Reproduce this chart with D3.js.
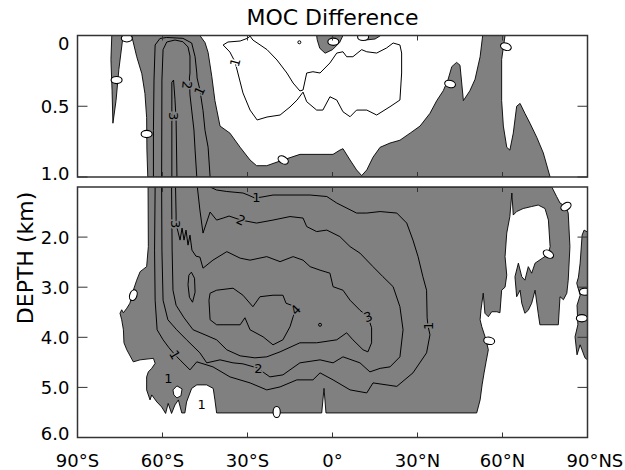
<!DOCTYPE html>
<html><head><meta charset="utf-8">
<script src="https://cdn.jsdelivr.net/npm/d3@7"></script>
<style>body{margin:0;background:#fff}svg{display:block}</style>
</head><body>
<svg id="c" width="625" height="470"></svg>
<script>
// ---------- axis ticks / labels ----------
const latTicks = [-90,-60,-30,0,30,60,90];
const latLabels = ["90°S","60°S","30°S","0°","30°N","60°N","90°NS"];
const topDepthTicks = [0,0.5,1.0];
const topDepthLabels = ["0","0.5","1.0"];
const botDepthTicks = [2,3,4,5,6];
const botDepthLabels = ["2.0","3.0","4.0","5.0","6.0"];

// ---------- upper panel (0-1 km): shaded (negative) regions, [lat, depth] ----------
const topGrayMain = [[-70.9,0],[-46.8,0],[-45.0,0.05],[-43.9,0.12],[-42.6,0.29],[-41.5,0.46],[-39.7,0.64],[-36.2,0.69],[-32.6,0.79],[-29.1,0.88],[-26.8,0.92],[-23.2,0.92],[-17.5,0.88],[-11.5,0.84],[-4.4,0.84],[0.2,0.84],[2.6,0.81],[3.7,0.80],[6.2,0.88],[8.5,0.95],[10.3,0.99],[12.1,0.95],[14.3,0.86],[16.8,0.79],[20.3,0.76],[23.8,0.74],[27.4,0.69],[30.9,0.64],[34.4,0.55],[36.8,0.46],[39.1,0.39],[40.8,0.31],[42.1,0.22],[43.8,0.19],[45.0,0.21],[46.2,0.46],[48.5,0.39],[50.3,0.31],[52.1,0.15],[53.0,0],[60.9,0],[59.7,0.17],[59.7,0.46],[60.3,0.64],[61.5,0.79],[62.6,0.81],[63.8,0.69],[65.0,0.50],[66.2,0.48],[67.9,0.55],[69.7,0.62],[72.1,0.72],[74.4,0.83],[76.8,1.0],[-65.2,1.0],[-65.5,0.81],[-65.6,0.58],[-66.2,0.41],[-67.3,0.27],[-69.1,0.15]];
const topGraySliver = [[-77.9,0],[-73.9,0],[-75.4,0.24],[-76.4,0.46],[-77.5,0.62],[-77.8,0.39],[-78.2,0.17]];
const topGrayBlobA = [[-5.6,0],[3.7,0],[2.5,0.05],[0,0.10],[-2.6,0.125],[-4.5,0.09],[-5.4,0.03]];
const topGrayBlobB = [[9.5,0],[17,0],[15,0.025],[11.5,0.032]];

// ---------- upper panel contours ----------
const topC1 = [[-43.2,1.0],[-43.9,0.79],[-45.0,0.67],[-45.7,0.53],[-46.8,0.385],[-47.8,0.30],[-47.9,0.265],[-48.5,0.15],[-49.7,0.053],[-52.8,0.02],[-58.5,0.014],[-60.9,0.021],[-62.6,0.067],[-63.0,0.315],[-63.2,0.67],[-63.2,1.0]];
const topC2 = [[-60.3,1.0],[-60.2,0.315],[-59.8,0.10],[-58.5,0.046],[-55.6,0.032],[-52.8,0.044],[-51.0,0.081],[-50.3,0.145],[-50.3,0.265],[-50.5,0.30],[-50.3,0.42],[-49.7,0.527],[-48.9,0.668],[-48.5,0.81],[-47.9,1.0]];
const topC3 = [[-56.7,1.0],[-56.7,0.33],[-56.1,0.315],[-55.6,0.45],[-55.2,0.6],[-54.9,1.0]];
const topPosLoop = [[-38.6,0.067],[-36.9,0.046],[-32.6,0.039],[-29.8,0.018],[-29.1,0.004],[-28.1,0.032],[-23.1,0.10],[-19.6,0.173],[-16.1,0.265],[-13.9,0.336],[-11.5,0.392],[-10.4,0.385],[-9.1,0.265],[-6.9,0.256],[-4.4,0.265],[-0.9,0.194],[1.5,0.124],[3.7,0.115],[5.0,0.15],[7.2,0.15],[10.3,0.10],[12.1,0.115],[15.6,0.124],[19.1,0.088],[21.4,0.053],[23.8,0.067],[24.4,0.124],[24.4,0.265],[23.8,0.456],[20.3,0.503],[15.6,0.562],[12.1,0.527],[8.5,0.527],[6.2,0.574],[3.7,0.539],[1.5,0.456],[-0.9,0.433],[-3.4,0.527],[-5.6,0.527],[-9.1,0.468],[-10.4,0.40],[-12.5,0.456],[-15.0,0.505],[-18.5,0.562],[-23.1,0.576],[-26.6,0.597],[-29.1,0.527],[-31.6,0.406],[-33.4,0.265],[-34.4,0.187],[-36.2,0.117]];
const topDots = [[-11.7,0.048]];
const topZeros = [[-72.6,0.02,0],[-76.2,0.315,0],[-65.6,0.696,0],[-17.4,0.88,30],[41.5,0.343,15],[61.2,0.079,20],[0.3,0.044,0],[10.8,0.01,0]];
const topLabels = [["1",-34.4,0.19,-75,"w"],["1",-46.9,0.39,-65,"g"],["2",-51.3,0.35,95,"g"],["3",-56.0,0.57,90,"g"]];

// ---------- lower panel (1-6 km): shaded regions ----------
const botGrayMain = [[-65.1,1.0],[-65.0,2.19],[-65.6,2.59],[-67.9,2.69],[-69.1,2.86],[-70.3,3.06],[-71.5,3.32],[-72.6,3.42],[-73.8,3.51],[-74.4,3.45],[-75.0,3.52],[-74.4,3.65],[-73.8,3.85],[-73.6,4.11],[-72.6,4.25],[-70.3,4.49],[-67.9,4.45],[-63.2,4.42],[-62.6,4.52],[-63.8,4.62],[-65.0,4.69],[-65.6,4.79],[-65.6,5.05],[-64.4,5.25],[-63.8,5.15],[-62.0,5.29],[-60.3,5.39],[-58.9,5.52],[-58.0,5.32],[-56.8,5.52],[-55.6,5.35],[-54.4,5.25],[-53.2,5.51],[-52.1,5.51],[-51.5,5.29],[-49.7,5.02],[-47.9,4.95],[-44.4,4.95],[-42.1,5.02],[-41.5,5.25],[-40.9,5.51],[-3.8,5.51],[-3.0,5.02],[-2.3,5.51],[50.9,5.51],[52.1,5.25],[52.8,4.95],[53.5,4.71],[54.2,4.49],[55.0,4.25],[54.2,4.05],[52.7,3.79],[52.1,3.65],[52.4,3.46],[53.2,3.12],[53.8,3.52],[55.0,3.59],[56.2,3.49],[58.0,3.49],[59.1,3.51],[59.7,3.06],[60.9,3.0],[61.5,2.76],[60.9,2.39],[61.5,1.92],[62.6,1.59],[63.3,1.12],[63.8,1.56],[65.0,1.49],[67.3,1.43],[70.3,1.39],[72.6,1.36],[75.0,1.43],[76.2,1.66],[76.8,2.19],[76.2,2.34],[71.5,2.52],[70.3,2.72],[69.1,2.59],[67.9,2.86],[66.8,2.79],[65.6,2.52],[64.4,2.79],[65.0,3.19],[66.2,3.06],[66.8,3.32],[67.9,3.52],[69.1,3.46],[70.3,3.32],[71.5,3.06],[72.6,3.52],[73.2,3.75],[79.7,3.75],[80.3,3.19],[81.5,3.25],[82.7,3.12],[83.2,2.86],[83.8,2.19],[83.2,1.52],[82.4,1.39],[80.3,1.32],[79.1,1.19],[77.4,1.0]];
const botGrayEdge = [[88.1,1.96],[88.8,1.86],[90,1.90],[90,4.45],[89.1,4.41],[87.4,4.15],[86.3,4.35],[85.6,3.99],[86.6,3.75],[86.3,3.36],[87.4,3.16],[86.2,2.92],[86.8,2.80],[87.4,2.52]];
const botWhiteNotch = [[-56.3,5.05],[-54.9,4.97],[-53.1,5.03],[-53.5,5.17],[-54.9,5.21],[-56.0,5.15]];

// ---------- lower panel contours ----------
const botC1 = [[-62.6,1.0],[-62.8,2.26],[-62.6,3.26],[-61.9,3.85],[-59.8,4.05],[-57.7,4.21],[-55.6,4.35],[-53.5,4.47],[-50.3,4.65],[-47.9,4.49],[-42.2,4.59],[-36.2,4.79],[-29.1,4.91],[-23.2,5.05],[-18.5,4.99],[-12.6,4.85],[-6.9,4.85],[-4.4,4.71],[0.2,4.85],[6.2,5.05],[12.1,5.11],[14.3,4.91],[22.7,4.98],[28.4,4.71],[33.2,4.31],[34.4,3.95],[33.7,3.77],[33.4,3.61],[33.2,3.06],[31.9,2.79],[30.2,2.39],[28.4,2.06],[26.2,1.72],[22.7,1.52],[16.8,1.49],[12.1,1.52],[8.5,1.52],[1.5,1.32],[-2.0,1.19],[-7.9,1.16],[-21.0,1.16],[-24.9,1.20],[-27.4,1.22],[-29.8,1.16],[-31.6,1.12],[-37.3,1.09],[-40.9,1.06],[-43.2,1.0]];
const botC2 = [[-60.3,1.0],[-60.2,2.26],[-59.8,3.26],[-58.1,3.65],[-55.0,3.85],[-51.5,4.05],[-46.8,4.31],[-44.4,4.51],[-39.7,4.45],[-35.1,4.51],[-31.6,4.53],[-26.6,4.61],[-22.1,4.79],[-17.5,4.75],[-11.5,4.51],[-4.4,4.45],[0.2,4.51],[3.7,4.39],[9.7,4.51],[13.2,4.69],[16.8,4.62],[20.3,4.59],[23.8,4.39],[24.9,3.85],[23.8,3.39],[21.4,2.99],[17.8,2.79],[14.3,2.59],[9.7,2.32],[6.2,2.19],[2.6,1.99],[-2.0,1.86],[-5.6,1.89],[-9.1,1.79],[-10.4,1.62],[-15.0,1.59],[-21.0,1.66],[-26.8,1.72],[-32.3,1.66],[-36.5,1.58],[-38.6,1.62],[-40.9,1.66],[-43.2,1.50],[-45.7,1.92],[-46.8,1.46],[-47.7,1.0]];
const botC3 = [[-56.8,1.0],[-56.6,2.26],[-56.3,3.06],[-55.2,3.36],[-52.4,3.61],[-49.2,3.85],[-45.0,3.95],[-40.9,4.05],[-37.3,4.25],[-32.6,4.37],[-27.4,4.41],[-23.2,4.39],[-18.5,4.29],[-11.5,4.11],[-5.6,4.11],[1.5,4.05],[5.0,3.91],[7.2,4.05],[10.8,4.25],[12.5,4.29],[13.8,4.11],[13.8,3.81],[12.5,3.59],[9.7,3.46],[6.2,3.26],[3.7,3.06],[0.2,2.99],[-0.9,2.72],[-4.4,2.66],[-7.9,2.59],[-10.4,2.46],[-13.9,2.39],[-18.5,2.49],[-23.2,2.39],[-29.1,2.46],[-32.6,2.42],[-37.3,2.29],[-42.2,2.46],[-45.7,2.62],[-46.8,2.40],[-48.2,2.38],[-49.6,2.26],[-50.3,1.96],[-51.0,2.16],[-51.7,1.86],[-52.4,2.06],[-53.1,1.82],[-53.8,2.06],[-54.5,1.90],[-55.2,1.74],[-55.2,1.56],[-55.4,1.0]];
const botC4 = [[-43.2,3.12],[-40.9,3.06],[-35.1,3.02],[-31.6,3.16],[-28.1,3.39],[-25.6,3.19],[-21.0,3.16],[-17.5,3.16],[-16.4,3.32],[-12.6,3.40],[-13.9,3.59],[-15.0,3.79],[-17.5,4.05],[-21.0,4.15],[-24.5,3.99],[-29.1,3.85],[-30.9,3.61],[-32.6,3.75],[-40.9,3.75],[-43.2,3.65],[-43.6,3.26]];
const botOval = [[-49.8,2.7],[-48.7,2.82],[-48.5,3.1],[-49.4,3.3],[-50.5,3.2],[-51,2.95],[-50.7,2.76]];
const botDots = [[-4.4,3.75]];
const botZeros = [[-70.3,3.16,-70],[-19.7,5.49,90],[82.4,1.39,-30],[76.2,2.34,30],[55.3,4.07,10],[88.0,3.62,0],[89.1,3.09,0]];
const botLabels = [["1",-55.6,4.35,60,"g"],["2",-26.2,4.61,0,"g"],["2",-32.3,1.66,25,"g"],["1",-26.9,1.21,0,"g"],["1",33.7,3.77,-90,"g"],["3",12.5,3.59,-20,"g"],["4",-13.0,3.45,-45,"g"],["3",-55.4,1.74,90,"g"],["1",-57.9,4.81,0,"g"],["1",-46.2,5.33,0,"w"]];

// ---------- drawing ----------
const GRAY = "#808080";
const FONT = "DejaVu Sans, sans-serif";
const svg = d3.select("#c");
const x = d3.scaleLinear().domain([-90,90]).range([77.5,587.5]);
const yTop = d3.scaleLinear().domain([0,1]).range([35.5,177]);
const yBot = d3.scaleLinear().domain([1,6]).range([187,437.5]);

function panel(id, y, grays, whites, lines, loops, dots, zeros, labels){
  const [y0,y1] = y.range();
  svg.append("clipPath").attr("id",id).append("rect")
     .attr("x",x(-90)).attr("y",y0).attr("width",x(90)-x(-90)).attr("height",y1-y0);
  const g = svg.append("g").attr("clip-path",`url(#${id})`);
  const line = d3.line().x(p=>x(p[0])).y(p=>y(p[1]));
  grays.forEach(p=>g.append("path").attr("d",line(p)+"Z").attr("fill",GRAY).attr("stroke","#000").attr("stroke-width",0.9));
  whites.forEach(p=>g.append("path").attr("d",line(p)+"Z").attr("fill","#fff").attr("stroke","#000").attr("stroke-width",0.9));
  lines.forEach(p=>g.append("path").attr("d",line(p)).attr("fill","none").attr("stroke","#000").attr("stroke-width",1));
  loops.forEach(p=>g.append("path").attr("d",line(p)+"Z").attr("fill","none").attr("stroke","#000").attr("stroke-width",1));
  dots.forEach(p=>g.append("circle").attr("cx",x(p[0])).attr("cy",y(p[1])).attr("r",1.5).attr("fill","none").attr("stroke","#000"));
  zeros.forEach(z=>g.append("ellipse").attr("cx",0).attr("cy",0).attr("rx",5.5).attr("ry",3.6)
     .attr("transform",`translate(${x(z[0])},${y(z[1])}) rotate(${z[2]})`)
     .attr("fill","#fff").attr("stroke","#000").attr("stroke-width",1.1));
  labels.forEach(l=>g.append("text").text(l[0])
     .attr("transform",`translate(${x(l[1])},${y(l[2])}) rotate(${l[3]})`)
     .attr("text-anchor","middle").attr("dy","0.36em")
     .attr("font-family",FONT).attr("font-size",13)
     .attr("fill","#000").attr("stroke",l[4]==="w"?"#fff":GRAY).attr("stroke-width",3)
     .attr("paint-order","stroke"));
  // frame
  svg.append("rect").attr("x",x(-90)).attr("y",y0).attr("width",x(90)-x(-90)).attr("height",y1-y0)
     .attr("fill","none").attr("stroke","#333").attr("stroke-width",1.5);
  // x ticks (inward, top and bottom)
  latTicks.slice(1,-1).forEach(t=>{
    svg.append("line").attr("x1",x(t)).attr("x2",x(t)).attr("y1",y1).attr("y2",y1-5).attr("stroke","#333");
    svg.append("line").attr("x1",x(t)).attr("x2",x(t)).attr("y1",y0).attr("y2",y0+5).attr("stroke","#333");
  });
}

panel("cpTop", yTop, [topGrayMain,topGraySliver,topGrayBlobA,topGrayBlobB], [], [topC1,topC2,topC3], [topPosLoop], topDots, topZeros, topLabels);
panel("cpBot", yBot, [botGrayMain,botGrayEdge], [botWhiteNotch], [botC1,botC2,botC3], [botC4,botOval], botDots, botZeros, botLabels);

// y ticks and labels
function yAxis(y, ticks, labels, shifts){
  ticks.forEach((t,i)=>{
    const yy = y(t);
    svg.append("line").attr("x1",x(-90)).attr("x2",x(-90)+10).attr("y1",yy).attr("y2",yy).attr("stroke","#333");
    svg.append("line").attr("x1",x(90)).attr("x2",x(90)-10).attr("y1",yy).attr("y2",yy).attr("stroke","#333");
    svg.append("text").text(labels[i]).attr("x",x(-90)-8).attr("y",yy+6.5+shifts[i])
      .attr("text-anchor","end").attr("font-family",FONT).attr("font-size",18).attr("fill","#000");
  });
}
yAxis(yTop, topDepthTicks, topDepthLabels, [8,0,-4]);
yAxis(yBot, botDepthTicks, botDepthLabels, [0,0,0,0,-4]);

// x labels
latTicks.forEach((t,i)=>{
  const last = i===latTicks.length-1;
  svg.append("text").text(latLabels[i]).attr("x",last? x(t)-21 : x(t)).attr("y",466.5)
    .attr("text-anchor",last?"start":"middle").attr("font-family",FONT).attr("font-size",18).attr("fill","#000");
});

// title and axis title
svg.append("text").text("MOC Difference").attr("x",x(0)).attr("y",25)
  .attr("text-anchor","middle").attr("font-family",FONT).attr("font-size",22).attr("fill","#000");
svg.append("text").text("DEPTH (km)").attr("transform","translate(33,258) rotate(-90)")
  .attr("text-anchor","middle").attr("font-family",FONT).attr("font-size",22).attr("fill","#000");
</script>
</body></html>
